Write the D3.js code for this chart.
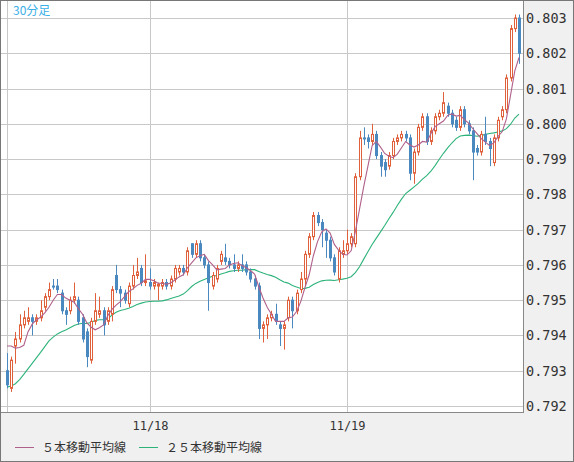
<!DOCTYPE html>
<html><head><meta charset="utf-8">
<script src="https://cdn.jsdelivr.net/npm/d3@7/dist/d3.min.js"></script>
<style>body{margin:0;background:#fff}svg{display:block}</style>
</head><body>
<svg id="c" width="574" height="462"></svg>
<script>
// price data, in 1e-4 units above 0.7900
const opens  = [30,25,37,39,43,44,45,44,45,48,51,54,54,52,47,47,50,50,45,41,33,44,46,47,44,46,57,53,52,49,54,57,59,55,55,54,54,54,55,54,56,58,59,58,66,63,66,62,60,54,56,61,62,61,60,59,60,60,58,56,54,42,43,45,46,43,42,45,50,47,53,56,63,68,74,72,69,67,62,56,63,64,66,66,85,96,96,95,97,91,89,88,91,95,96,97,96,86,92,99,102,95,98,102,103,105,103,101,99,104,100,98,93,92,97,95,89,96,102,104,113,127,130];
const closes = [26,33,39,43,45,45,44,45,47,51,53,54,53,47,46,50,51,44,39,34,44,47,47,43,47,53,53,52,50,54,57,58,55,55.5,54,55,54.5,55,54,56,59,59,58,64,63,66,62,60,55,57,59,63,61,60,59,60,59,58,56,54,42,43,45,46,44,42,43,50,47,52,56,63,68,74,72,70,67,62,58,64,64,66,68,85,96,96,95,97,91,88,87,91,95,96,97,96,86,92,99,102,95,98,102,103,106,103,100,99,104,100,98,92,92,97,95,93,96,101,104,113,127,130,120];
const highs  = [35,34,41,46,47,48,46,46,50,52,55,56,56,53,48,51,55,51,46,42,45,52,51,48,48,54,60,54,53,55,60,62,60,63,59,56,55,56,56,57,60,60,60,65,66,67,67,63,61,58,60,64,66,62,63,61,63,61,59,57,55,44,46,47,49,44,44,51,51,53,58,64,69,75,75,73,70,68,63,65,67,70,69,86,98,99,97,100,98,92,90,92,96,97,98,98,97,93,100,103,103,99,103,104,109,106,104,102,105,105,101,99,94,98,102,96,97,102,105,114,128,131,131];
const lows   = [25,24,32,38,42,43,40,43,44,47,50,53,52,46,43,46,49,43,38,31,32,43,45,40,43,44,52,48,49,48,53,56,54,54,53,53,50,53,53,53,55,57,57,57,62,62,61,59,47,53,55,60,60,59,58,58,58,57,55,53,39,38,39,44,43,37,36,44,42,46,52,54,62,67,71,65,62,61,57,55,62,63,65,65,84,94,93,94,90,85,85,87,90,94,95,95,84,83,91,98,94,94,97,101,102,102,99,98,98,99,97,84,91,91,94,88,88,95,101,103,112,126,117];
// closes before the first visible bar (for the moving averages)
const priorCloses = [26,22,14,8,6,5,6,8,10,12,28,30,32,33,34,35,34,33,36,37,33,42,42,42];
const yTicks = [0.792,0.793,0.794,0.795,0.796,0.797,0.798,0.799,0.800,0.801,0.802,0.803];
const dateTickIndex = [34, 81];
const dateTickLabels = ["11/18", "11/19"];
const legendLabels = ["５本移動平均線", "２５本移動平均線"];

const P = v => 0.79 + v/10000;
const svg = d3.select("#c");
const W=574,H=462, pl=1, pr=523, pt=1, pb=412;
svg.append("rect").attr("width",W).attr("height",H).attr("fill","#f0f0f0");
svg.append("rect").attr("x",pl).attr("y",pt).attr("width",pr-pl).attr("height",pb-pt).attr("fill","#fff");
const x = d3.scaleLinear().domain([0,opens.length-1]).range([7,519]);
const y = d3.scaleLinear().domain([0.792,0.803]).range([406,18]);
const g = svg.append("g");
yTicks.forEach(t=>{
  g.append("line").attr("x1",pl).attr("x2",pr).attr("y1",Math.round(y(t))+0.5).attr("y2",Math.round(y(t))+0.5).attr("stroke","#c8c8c8");
});
g.append("line").attr("x1",Math.round(x(0))+0.5).attr("x2",Math.round(x(0))+0.5).attr("y1",pt).attr("y2",pb).attr("stroke","#c8c8c8");
dateTickIndex.forEach((d,i)=>{
  const xx=Math.round(x(d))+0.5;
  g.append("line").attr("x1",xx).attr("x2",xx).attr("y1",pt).attr("y2",pb).attr("stroke","#c8c8c8");
  svg.append("text").attr("x",xx).attr("y",430).attr("text-anchor","middle").attr("font-family","DejaVu Sans Mono").attr("font-size",12).attr("fill","#333").text(dateTickLabels[i]);
});
yTicks.forEach(t=>{
  svg.append("text").attr("x",526).attr("y",y(t)+5).attr("font-family","DejaVu Sans Mono").attr("font-size",13.5).attr("fill","#333").text(t.toFixed(3));
});
// moving averages
const all = priorCloses.concat(closes);
function ma(n){ return closes.map((c,i)=>{const j=i+priorCloses.length; return P(d3.mean(all.slice(j-n+1,j+1)));}); }
const line = d3.line().x((d,i)=>x(i)).y(d=>y(d));
svg.append("clipPath").attr("id","pc").append("rect").attr("x",pl).attr("y",pt).attr("width",pr-pl).attr("height",pb-pt);
const pg = svg.append("g").attr("clip-path","url(#pc)");
pg.append("path").datum(ma(25)).attr("d",line).attr("fill","none").attr("stroke","#2db37a").attr("stroke-width",1.1);
// candles
const red="#e0603c", blue="#4a88c0";
opens.forEach((o,i)=>{
  const c=closes[i], up=c>o, col=up?red:blue, xx=Math.round(x(i))+0.5;
  pg.append("line").attr("x1",xx).attr("x2",xx).attr("y1",y(P(highs[i]))).attr("y2",y(P(lows[i]))).attr("stroke",col);
  const top=y(P(Math.max(o,c))), bot=y(P(Math.min(o,c)));
  pg.append("rect").attr("x",xx-1).attr("y",top).attr("width",2).attr("height",Math.max(bot-top,1))
    .attr("fill",up?"#fff":blue).attr("stroke",col).attr("stroke-width",1);
});
pg.append("path").datum(ma(5)).attr("d",line).attr("fill","none").attr("stroke","#b0608a").attr("stroke-width",1.1);
// borders
svg.append("rect").attr("x",pl-0.5).attr("y",pt-0.5).attr("width",pr-pl+1).attr("height",pb-pt+1).attr("fill","none").attr("stroke","#888");
svg.append("rect").attr("x",0.5).attr("y",0.5).attr("width",W-1).attr("height",H-1).attr("fill","none").attr("stroke","#777");
svg.append("text").attr("x",13).attr("y",15).attr("font-family","Noto Sans CJK JP").attr("font-size",12).attr("fill","#3ab0e8").text("30分足");
// legend
const lg=[{x:15,c:"#b0608a"},{x:139,c:"#2db37a"}];
lg.forEach((l,i)=>{
  svg.append("line").attr("x1",l.x).attr("x2",l.x+19).attr("y1",447.5).attr("y2",447.5).attr("stroke",l.c);
  svg.append("text").attr("x",l.x+27).attr("y",452).attr("font-family","Noto Sans CJK JP").attr("font-size",12).attr("fill","#333").text(legendLabels[i]);
});
</script>
</body></html>
